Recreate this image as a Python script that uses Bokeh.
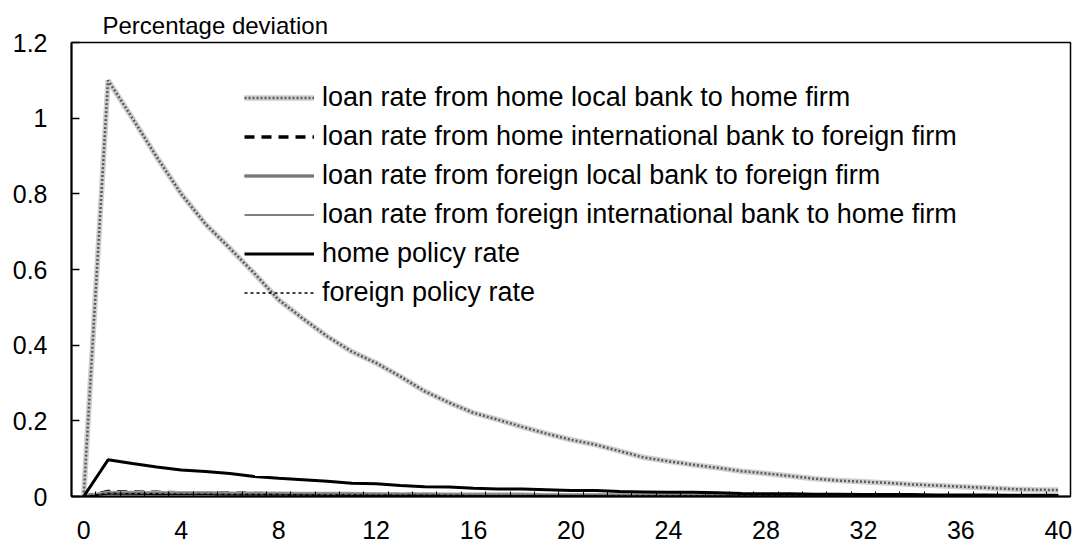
from bokeh.plotting import figure
from bokeh.models import (ColumnDataSource, Range1d, FixedTicker, Legend, LegendItem,
                          CustomJSTickFormatter)
from bokeh.embed import file_html
from bokeh.resources import INLINE

# ---------------- data ----------------
periods = list(range(41))

home_local_to_home_firm = [0, 1.10, 1.00, 0.897, 0.80, 0.72, 0.656, 0.59, 0.52, 0.47,
                           0.423, 0.383, 0.353, 0.317, 0.278, 0.248, 0.221, 0.203, 0.184, 0.166,
                           0.150, 0.137, 0.120, 0.103, 0.093, 0.084, 0.076, 0.067, 0.061, 0.054,
                           0.047, 0.042, 0.039, 0.036, 0.032, 0.029, 0.026, 0.023, 0.020, 0.018,
                           0.017]
home_intl_to_foreign_firm = [0, 0.013, 0.012, 0.011, 0.010, 0.009, 0.009, 0.008, 0.007, 0.007,
                             0.006, 0.006, 0.005, 0.005, 0.005, 0.004, 0.004, 0.004, 0.003, 0.003,
                             0.003, 0.003, 0.002, 0.002, 0.002, 0.002, 0.002, 0.002, 0.001, 0.001,
                             0.001, 0.001, 0.001, 0.001, 0.001, 0.001, 0.001, 0.001, 0.001, 0.001,
                             0.001]
foreign_local_to_foreign_firm = [0, 0.010, 0.010, 0.009, 0.009, 0.009, 0.008, 0.008, 0.008, 0.007,
                                 0.007, 0.007, 0.006, 0.006, 0.006, 0.005, 0.005, 0.005, 0.005, 0.004,
                                 0.004, 0.004, 0.004, 0.003, 0.003, 0.003, 0.003, 0.002, 0.002, 0.002,
                                 0.002, 0.002, 0.002, 0.001, 0.001, 0.001, 0.001, 0.001, 0.001, 0.001,
                                 0.001]
foreign_intl_to_home_firm = [0, 0.006, 0.006, 0.005, 0.005, 0.005, 0.004, 0.004, 0.004, 0.004,
                             0.003, 0.003, 0.003, 0.003, 0.003, 0.002, 0.002, 0.002, 0.002, 0.002,
                             0.002, 0.002, 0.001, 0.001, 0.001, 0.001, 0.001, 0.001, 0.001, 0.001,
                             0.001, 0.001, 0.001, 0.001, 0.001, 0.001, 0.000, 0.000, 0.000, 0.000,
                             0.000]
home_policy_rate = [0, 0.097, 0.087, 0.078, 0.070, 0.066, 0.061, 0.053, 0.048, 0.044,
                    0.040, 0.035, 0.034, 0.029, 0.026, 0.025, 0.022, 0.020, 0.020, 0.018,
                    0.016, 0.016, 0.013, 0.012, 0.011, 0.011, 0.010, 0.008, 0.007, 0.007,
                    0.006, 0.006, 0.005, 0.005, 0.005, 0.004, 0.004, 0.004, 0.003, 0.003,
                    0.003]
foreign_policy_rate = [0, 0.008, 0.007, 0.007, 0.006, 0.006, 0.005, 0.005, 0.005, 0.004,
                       0.004, 0.004, 0.003, 0.003, 0.003, 0.003, 0.002, 0.002, 0.002, 0.002,
                       0.002, 0.002, 0.001, 0.001, 0.001, 0.001, 0.001, 0.001, 0.001, 0.001,
                       0.001, 0.001, 0.001, 0.001, 0.000, 0.000, 0.000, 0.000, 0.000, 0.000,
                       0.000]

series_labels = ["loan rate from home local bank to home firm",
                 "loan rate from home international bank to foreign firm",
                 "loan rate from foreign local bank to foreign firm",
                 "loan rate from foreign international bank to home firm",
                 "home policy rate",
                 "foreign policy rate"]

x_tick_values = [0, 4, 8, 12, 16, 20, 24, 28, 32, 36, 40]
y_tick_values = [0, 0.2, 0.4, 0.6, 0.8, 1.0, 1.2]
y_title = "Percentage deviation"

src = ColumnDataSource(dict(
    t=periods,
    hl=home_local_to_home_firm,
    hi=home_intl_to_foreign_firm,
    fl=foreign_local_to_foreign_firm,
    fi=foreign_intl_to_home_firm,
    hp=home_policy_rate,
    fp=foreign_policy_rate,
))

FONT = "Liberation Sans"

p = figure(width=1072, height=552, output_backend="svg", toolbar_location=None, tools="",
           x_range=Range1d(-0.5, 40.5), y_range=Range1d(0, 1.2),
           min_border_left=71, min_border_right=2, min_border_top=42, min_border_bottom=56)
p.xgrid.visible = False
p.ygrid.visible = False
p.outline_line_color = "black"
p.outline_line_width = 1.5
p.background_fill_color = "white"
p.border_fill_color = "white"

# title of the value axis
p.title.text = y_title
p.title.align = "left"
p.title.offset = 31
p.title.standoff = 8
p.title.text_font = FONT
p.title.text_font_size = "24px"
p.title.text_font_style = "normal"
p.title.text_color = "black"

# series
r_hl_base = p.line("t", "hl", source=src, line_color="#cfcfcf", line_width=5.5)
r_hl_dot = p.line("t", "hl", source=src, line_color="#5a5a5a", line_width=2.5, line_dash="2 2")
r_hi = p.line("t", "hi", source=src, line_color="black", line_width=3.5, line_dash="10 7")
r_fl_base = p.line("t", "fl", source=src, line_color="#a0a0a0", line_width=4)
r_fl_dot = p.line("t", "fl", source=src, line_color="#555555", line_width=2, line_dash="1 1")
r_fi = p.line("t", "fi", source=src, line_color="black", line_width=1)
r_hp = p.line("t", "hp", source=src, line_color="black", line_width=3)
r_fp = p.line("t", "fp", source=src, line_color="black", line_width=1.5, line_dash="3 3")

# axes
p.xaxis.ticker = FixedTicker(ticks=x_tick_values, minor_ticks=[k - 0.5 for k in range(42)])
p.xaxis.major_tick_in = 0
p.xaxis.major_tick_out = 0
p.xaxis.minor_tick_in = 5
p.xaxis.minor_tick_out = 0
p.xaxis.minor_tick_line_color = "black"
p.xaxis.minor_tick_line_width = 1
p.xaxis.major_label_standoff = 24

p.yaxis.ticker = FixedTicker(ticks=y_tick_values)
p.yaxis.formatter = CustomJSTickFormatter(code="return (Math.round(tick*10)/10).toString();")
p.yaxis.major_tick_in = 8
p.yaxis.major_tick_out = 0
p.yaxis.major_tick_line_width = 1.5
p.yaxis.minor_tick_line_color = None
p.yaxis.major_label_standoff = 24

for ax in (p.xaxis[0], p.yaxis[0]):
    ax.axis_line_color = "black"
    ax.axis_line_width = 2
    ax.major_tick_line_color = "black"
    ax.major_label_text_font = FONT
    ax.major_label_text_font_size = "25px"
    ax.major_label_text_color = "black"

# legend
items = [
    LegendItem(label=series_labels[0], renderers=[r_hl_base, r_hl_dot]),
    LegendItem(label=series_labels[1], renderers=[r_hi]),
    LegendItem(label=series_labels[2], renderers=[r_fl_base, r_fl_dot]),
    LegendItem(label=series_labels[3], renderers=[r_fi]),
    LegendItem(label=series_labels[4], renderers=[r_hp]),
    LegendItem(label=series_labels[5], renderers=[r_fp]),
]
legend = Legend(items=items, location=(173, 188), orientation="vertical",
                glyph_width=70, glyph_height=31, label_height=31, spacing=8,
                padding=0, margin=0, label_standoff=8,
                background_fill_alpha=0, border_line_color=None,
                label_text_font=FONT, label_text_font_size="27px", label_text_color="black")
p.add_layout(legend)

open("out.html", "w").write(file_html(p, INLINE))
